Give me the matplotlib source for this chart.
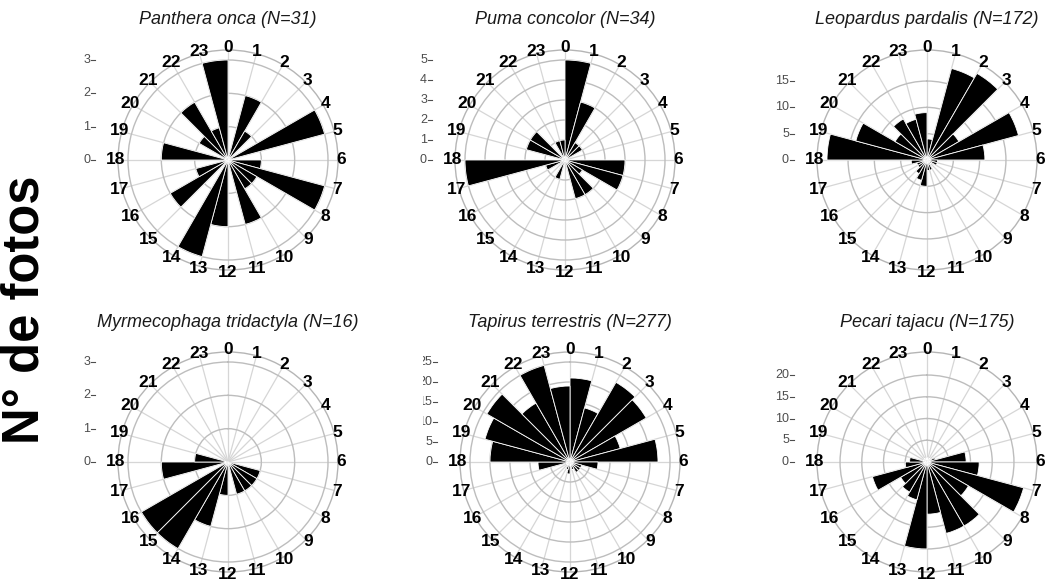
import numpy as np
import matplotlib.pyplot as plt
from matplotlib.patches import Rectangle

plt.rcParams["font.family"] = ["Liberation Sans", "DejaVu Sans"]

hours = list(range(24))

titles = [
    "Panthera onca (N=31)",
    "Puma concolor (N=34)",
    "Leopardus pardalis (N=172)",
    "Myrmecophaga tridactyla (N=16)",
    "Tapirus terrestris (N=277)",
    "Pecari tajacu (N=175)",
]

# photos per hour, 0..23
panthera_onca = [0, 2, 1, 0, 3, 0, 1, 3, 1, 1, 2, 0, 2, 3, 0, 2, 1, 0, 2, 0, 1, 2, 1, 3]
puma_concolor = [5, 3, 1, 1, 0, 0, 3, 3, 1, 2, 2, 0, 0, 1, 0, 0, 1, 5, 0, 2, 2, 0, 1, 1]
leopardus_pardalis = [4, 18, 19, 7, 18, 11, 2, 2, 1, 1, 2, 2, 5, 4, 3, 2, 2, 3, 19, 14, 7, 9, 8, 9]
myrmecophaga_tridactyla = [0, 0, 0, 0, 0, 0, 0, 1, 1, 1, 1, 0, 1, 2, 3, 3, 0, 2, 1, 0, 0, 0, 0, 0]
tapirus_terrestris = [21, 14, 23, 22, 13, 22, 7, 3, 3, 3, 2, 1, 3, 2, 1, 1, 1, 8, 20, 22, 24, 17, 25, 19]
pecari_tajacu = [1, 0, 1, 1, 2, 9, 12, 23, 11, 17, 17, 12, 20, 9, 8, 7, 13, 5, 4, 1, 0, 1, 0, 1]

r_ticks = [
    [0, 1, 2, 3],
    [0, 1, 2, 3, 4, 5],
    [0, 5, 10, 15],
    [0, 1, 2, 3],
    [0, 5, 10, 15, 20, 25],
    [0, 5, 10, 15, 20],
]

series = [panthera_onca, puma_concolor, leopardus_pardalis,
          myrmecophaga_tridactyla, tapirus_terrestris, pecari_tajacu]

W, H = 1048, 588
centers = [(228, 160), (565, 160), (927, 160), (228, 462), (570, 462), (927, 462)]
R = 110  # outer circle radius in px


def main() -> None:
    fig = plt.figure(figsize=(W / 100, H / 100), dpi=100)
    fig.patch.set_facecolor("white")

    theta = np.array(hours) * 2 * np.pi / 24
    width = 2 * np.pi / 24

    for i, (cx, cy) in enumerate(centers):
        ax = fig.add_axes([(cx - R) / W, 1 - (cy + R) / H, 2 * R / W, 2 * R / H],
                          projection="polar")
        ax.set_theta_zero_location("N")
        ax.set_theta_direction(-1)
        vals = series[i]
        rmax = 1.1 * max(vals)
        ax.set_ylim(0, rmax)

        ax.bar(theta, vals, width=width, align="edge", color="black",
               edgecolor="white", linewidth=0.6, zorder=3)

        ax.set_xticks(theta)
        ax.set_xticklabels([])
        ax.set_yticks(r_ticks[i][1:])
        ax.set_yticklabels([])
        ax.xaxis.grid(True, color="#d6d6d6", linewidth=0.9)
        ax.yaxis.grid(True, color="#bdbdbd", linewidth=1.0)
        ax.spines["polar"].set_color("#b5b5b5")
        ax.spines["polar"].set_linewidth(1.0)
        ax.set_axisbelow(True)

        for h, t in zip(hours, theta):
            ax.text(t, rmax * 1.025, str(h), ha="center", va="center",
                    fontsize=12.5, fontweight="bold", color="black", clip_on=False)

        # the tapir panel has its left tick labels cut off in the original
        clip_rect = None
        if i == 4:
            clip_rect = Rectangle((423, 0), W, H, transform=None)
        for v in r_ticks[i]:
            y = 0.5 + 0.5 * v / rmax
            t = ax.text(0.5 - 138 / (2 * R), y, str(v), transform=ax.transAxes,
                        ha="right", va="center", fontsize=9, color="#4d4d4d",
                        clip_on=False)
            if clip_rect is not None:
                t.set_clip_on(True)
                t.set_clip_path(clip_rect)
            ax.plot([0.5 - 137 / (2 * R), 0.5 - 133 / (2 * R)], [y, y],
                    transform=ax.transAxes, color="#4d4d4d", linewidth=0.8,
                    clip_on=False)

        ax.text(0.5, 0.5 + 140 / (2 * R), titles[i], transform=ax.transAxes,
                ha="center", va="center", fontsize=13, style="italic",
                color="#1a1a1a")

    fig.text(25 / W, 1 - 310 / H, "N° de fotos", rotation=90, fontsize=36.5,
             fontweight="bold", ha="center", va="center", color="black")

    fig.savefig("out.png", dpi=100, facecolor="white")
    plt.close(fig)


if __name__ == "__main__":
    main()
